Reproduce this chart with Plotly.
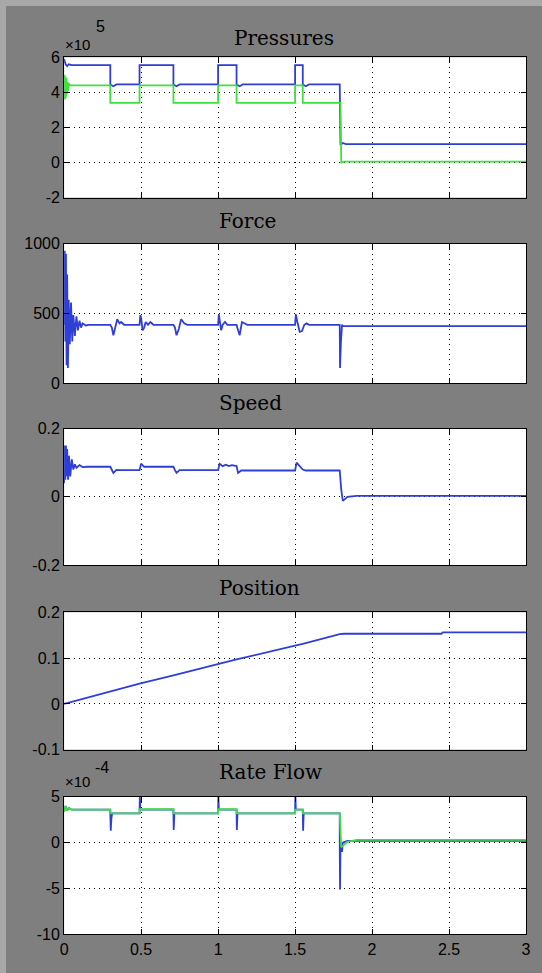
import plotly.graph_objects as go

# ---------------- data ----------------
# Pressures (units of 1e5 Pa)
p1_t = [0, 0.004, 0.01, 0.02, 0.03, 0.05, 0.30, 0.30, 0.32, 0.34, 0.49, 0.49, 0.71, 0.71, 0.73, 0.75,
        1.00, 1.00, 1.12, 1.12, 1.14, 1.16, 1.50, 1.50, 1.55, 1.55, 1.57, 1.59, 1.79, 1.795, 1.81, 1.83, 3.0]
p1_v = [5.9, 5.8, 5.6, 5.5, 5.6, 5.55, 5.55, 4.45, 4.35, 4.45, 4.45, 5.55, 5.55, 4.45, 4.35, 4.45,
        4.45, 5.55, 5.55, 4.45, 4.35, 4.45, 4.45, 5.55, 5.55, 4.45, 4.35, 4.45, 4.45, 1.0, 1.12, 1.05, 1.05]
p2_t = [0, 0.003, 0.006, 0.009, 0.012, 0.015, 0.018, 0.022, 0.026, 0.03, 0.04, 0.30, 0.30, 0.49, 0.49,
        0.71, 0.71, 1.00, 1.00, 1.12, 1.12, 1.50, 1.50, 1.55, 1.55, 1.795, 1.80, 1.82, 3.0]
p2_v = [4.4, 5.0, 3.6, 4.9, 3.7, 4.8, 3.9, 4.6, 4.1, 4.5, 4.4, 4.4, 3.4, 3.4, 4.4,
        4.4, 3.4, 3.4, 4.4, 4.4, 3.4, 3.4, 4.4, 4.4, 3.4, 3.4, 0.0, 0.05, 0.05]

# Force
f_t = [0, 0.004, 0.008, 0.012, 0.016, 0.02, 0.025, 0.03, 0.037, 0.045, 0.053, 0.06, 0.07, 0.08, 0.09,
       0.10, 0.11, 0.12, 0.14, 0.16,
       0.30, 0.31, 0.32, 0.33, 0.345, 0.36, 0.37, 0.39,
       0.49, 0.495, 0.50, 0.51, 0.52, 0.53, 0.545, 0.56, 0.58,
       0.71, 0.72, 0.73, 0.745, 0.76, 0.78, 0.80,
       1.00, 1.005, 1.01, 1.02, 1.03, 1.045, 1.06,
       1.12, 1.13, 1.14, 1.155, 1.17, 1.19,
       1.50, 1.505, 1.515, 1.53, 1.545, 1.56, 1.575, 1.59,
       1.79, 1.792, 1.798, 1.805, 1.81, 3.0]
f_v = [420, 950, 300, 930, 130, 780, 110, 600, 280, 580, 300, 490, 340, 480, 380,
       450, 400, 430, 415, 420,
       420, 400, 345, 390, 460, 430, 440, 420,
       420, 490, 470, 380, 400, 440, 420, 440, 420,
       420, 400, 345, 390, 460, 430, 420,
       420, 495, 460, 380, 420, 440, 420,
       420, 380, 345, 440, 430, 420,
       420, 495, 440, 370, 375, 420, 430, 420,
       420, 110, 300, 420, 410, 410]

# Speed
s_t = [0, 0.004, 0.008, 0.012, 0.016, 0.02, 0.026, 0.032, 0.04, 0.05, 0.06, 0.07, 0.08, 0.10, 0.12, 0.15,
       0.30, 0.31, 0.32, 0.34, 0.36, 0.49, 0.50, 0.52, 0.71, 0.72, 0.73, 0.75,
       1.00, 1.01, 1.03, 1.05, 1.07, 1.09, 1.12, 1.13, 1.15,
       1.50, 1.51, 1.53, 1.55, 1.57, 1.79, 1.80, 1.81, 1.84, 1.90, 3.0]
s_v = [0.04, 0.15, 0.05, 0.15, 0.06, 0.14, 0.05, 0.12, 0.06, 0.11, 0.08, 0.095, 0.085, 0.093, 0.087, 0.088,
       0.088, 0.078, 0.07, 0.079, 0.078, 0.078, 0.097, 0.088, 0.088, 0.078, 0.07, 0.078,
       0.078, 0.097, 0.09, 0.094, 0.09, 0.093, 0.09, 0.07, 0.077,
       0.077, 0.100, 0.09, 0.08, 0.077, 0.077, 0.02, -0.012, 0.0, 0.003, 0.003]

# Position
x_t = [0, 0.30, 0.49, 0.71, 1.00, 1.12, 1.50, 1.55, 1.79, 1.82, 2.45, 2.46, 3.0]
x_v = [0, 0.027, 0.044, 0.062, 0.087, 0.097, 0.127, 0.131, 0.152, 0.153, 0.153, 0.156, 0.156]

# Rate flow (units of 1e-4 m^3/s)
q1_t = [0, 0.01, 0.02, 0.03, 0.05, 0.30, 0.30, 0.303, 0.307, 0.312, 0.49, 0.49, 0.492, 0.495,
        0.71, 0.71, 0.712, 0.716, 1.00, 1.00, 1.002, 1.005, 1.12, 1.12, 1.122, 1.126,
        1.50, 1.50, 1.502, 1.505, 1.55, 1.55, 1.552, 1.556,
        1.79, 1.79, 1.792, 1.795, 1.80, 1.805, 1.81, 1.84, 3.0]
q1_v = [3.4, 4.0, 3.5, 3.8, 3.6, 3.6, 3.3, 1.3, 2.6, 3.2, 3.2, 3.4, 5.2, 3.6,
        3.6, 3.3, 1.4, 3.2, 3.2, 3.4, 5.2, 3.6, 3.6, 3.3, 1.4, 3.2,
        3.2, 3.4, 5.2, 3.6, 3.6, 3.3, 1.3, 3.2,
        3.2, 0.0, -5.1, -0.5, 0.0, -1.0, 0.0, 0.2, 0.2]
q2_t = [0, 0.01, 0.02, 0.03, 0.05, 0.30, 0.30, 0.49, 0.49, 0.71, 0.71, 1.00, 1.00, 1.12, 1.12,
        1.50, 1.50, 1.55, 1.55, 1.79, 1.80, 1.82, 1.84, 1.90, 3.0]
q2_v = [3.4, 4.0, 3.5, 3.8, 3.6, 3.6, 3.2, 3.2, 3.65, 3.65, 3.2, 3.2, 3.65, 3.65, 3.2,
        3.2, 3.6, 3.6, 3.2, 3.2, -0.5, -0.2, 0.1, 0.3, 0.3]

x_ticks = [0, 0.5, 1, 1.5, 2, 2.5, 3]
x_ticklabels = ["0", "0.5", "1", "1.5", "2", "2.5", "3"]

titles = ["Pressures", "Force", "Speed", "Position", "Rate Flow"]
y_ranges = [[-2, 6], [0, 1000], [-0.2, 0.2], [-0.1, 0.2], [-10, 5]]
y_ticks = [[-2, 0, 2, 4, 6], [0, 500, 1000], [-0.2, 0, 0.2], [-0.1, 0, 0.1, 0.2], [-10, -5, 0, 5]]
y_ticklabels = [["-2", "0", "2", "4", "6"], ["0", "500", "1000"], ["-0.2", "0", "0.2"],
                ["-0.1", "0", "0.1", "0.2"], ["-10", "-5", "0", "5"]]

# ---------------- figure ----------------
# the page keeps the browser's 8px body margin, so the figure is 16px smaller
# than the window and positions below are given in window pixels, then shifted by OFF
OFF = 8
W, H = 542 - 2 * OFF, 973 - 2 * OFF
BLUE = "#2f3fd6"
GREEN = "#3ee03e"
panels_win = [(50, 193), (240, 382), (428, 567), (615, 755), (803, 943)]
title_win = [(232, 30), (217, 217), (217, 402), (217, 590), (217, 778)]
x_dom = [(61 - OFF) / W, (531 - OFF) / W]

fig = go.Figure()
series = [
    [(p1_t, p1_v, BLUE), (p2_t, p2_v, GREEN)],
    [(f_t, f_v, BLUE)],
    [(s_t, s_v, BLUE)],
    [(x_t, x_v, BLUE)],
    [(q1_t, q1_v, BLUE), (q2_t, q2_v, GREEN)],
]
for i, group in enumerate(series):
    xa = "x" if i == 0 else f"x{i+1}"
    ya = "y" if i == 0 else f"y{i+1}"
    for t, v, c in group:
        fig.add_trace(go.Scatter(x=t, y=v, mode="lines", line=dict(color=c, width=1.8),
                                 xaxis=xa, yaxis=ya, showlegend=False, hoverinfo="skip",
                                 cliponaxis=True))

tickfont = dict(family="Liberation Sans, Arial, sans-serif", size=16, color="black")
layout = dict(width=W, height=H, autosize=False, margin=dict(l=0, r=0, t=0, b=0, pad=0),
              paper_bgcolor="#7f7f7f", plot_bgcolor="white", showlegend=False)
for i in range(5):
    top, bot = panels_win[i]
    top -= OFF
    bot -= OFF
    sx = "" if i == 0 else str(i + 1)
    layout["xaxis" + sx] = dict(
        domain=x_dom, range=[0, 3], anchor="y" + sx, tickvals=x_ticks, ticktext=x_ticklabels,
        showticklabels=(i == 4), ticks="inside", ticklen=5, tickcolor="black",
        ticklabeloverflow="allow",
        showline=True, linecolor="black", linewidth=1, mirror="ticks",
        showgrid=True, gridcolor="black", griddash="1px,4px", gridwidth=1,
        zeroline=False, tickfont=tickfont, fixedrange=True)
    layout["yaxis" + sx] = dict(
        domain=[1 - bot / H, 1 - top / H], range=y_ranges[i], anchor="x" + sx,
        tickvals=y_ticks[i], ticktext=y_ticklabels[i],
        ticks="inside", ticklen=5, tickcolor="black", ticklabeloverflow="allow",
        showline=True, linecolor="black", linewidth=1, mirror="ticks",
        showgrid=True, gridcolor="black", griddash="1px,4px", gridwidth=1,
        zeroline=False, tickfont=tickfont, fixedrange=True)
fig.update_layout(**layout)

ann = []
for i, ttl in enumerate(titles):
    xl, yc = title_win[i]
    ann.append(dict(text=ttl, xref="paper", yref="paper", x=(xl - OFF) / W, y=1 - (yc - OFF) / H,
                    xanchor="left", yanchor="middle", showarrow=False,
                    font=dict(family="DejaVu Serif, serif", size=20, color="black")))
expo = [("×10", 60, 37, 15), ("5", 91, 19, 16), ("×10", 60, 787, 15), ("-4", 90, 773, 16)]
for txt, xl, yc, sz in expo:
    ann.append(dict(text=txt, xref="paper", yref="paper", x=(xl - OFF) / W, y=1 - (yc - OFF) / H,
                    xanchor="left", yanchor="middle", showarrow=False,
                    font=dict(family="Liberation Sans, Arial, sans-serif", size=sz, color="black")))
fig.update_layout(annotations=ann)

# page colour around the figure (the body margin): grey, with a lighter strip on top and left
post = ("document.documentElement.style.background='#7f7f7f';"
        "document.body.style.background='#7f7f7f';"
        "document.documentElement.style.boxShadow='inset 6px 6px 0 #a8a8a8';")
fig.write_html("out.html", config={"responsive": False, "displayModeBar": False},
               post_script=post)
